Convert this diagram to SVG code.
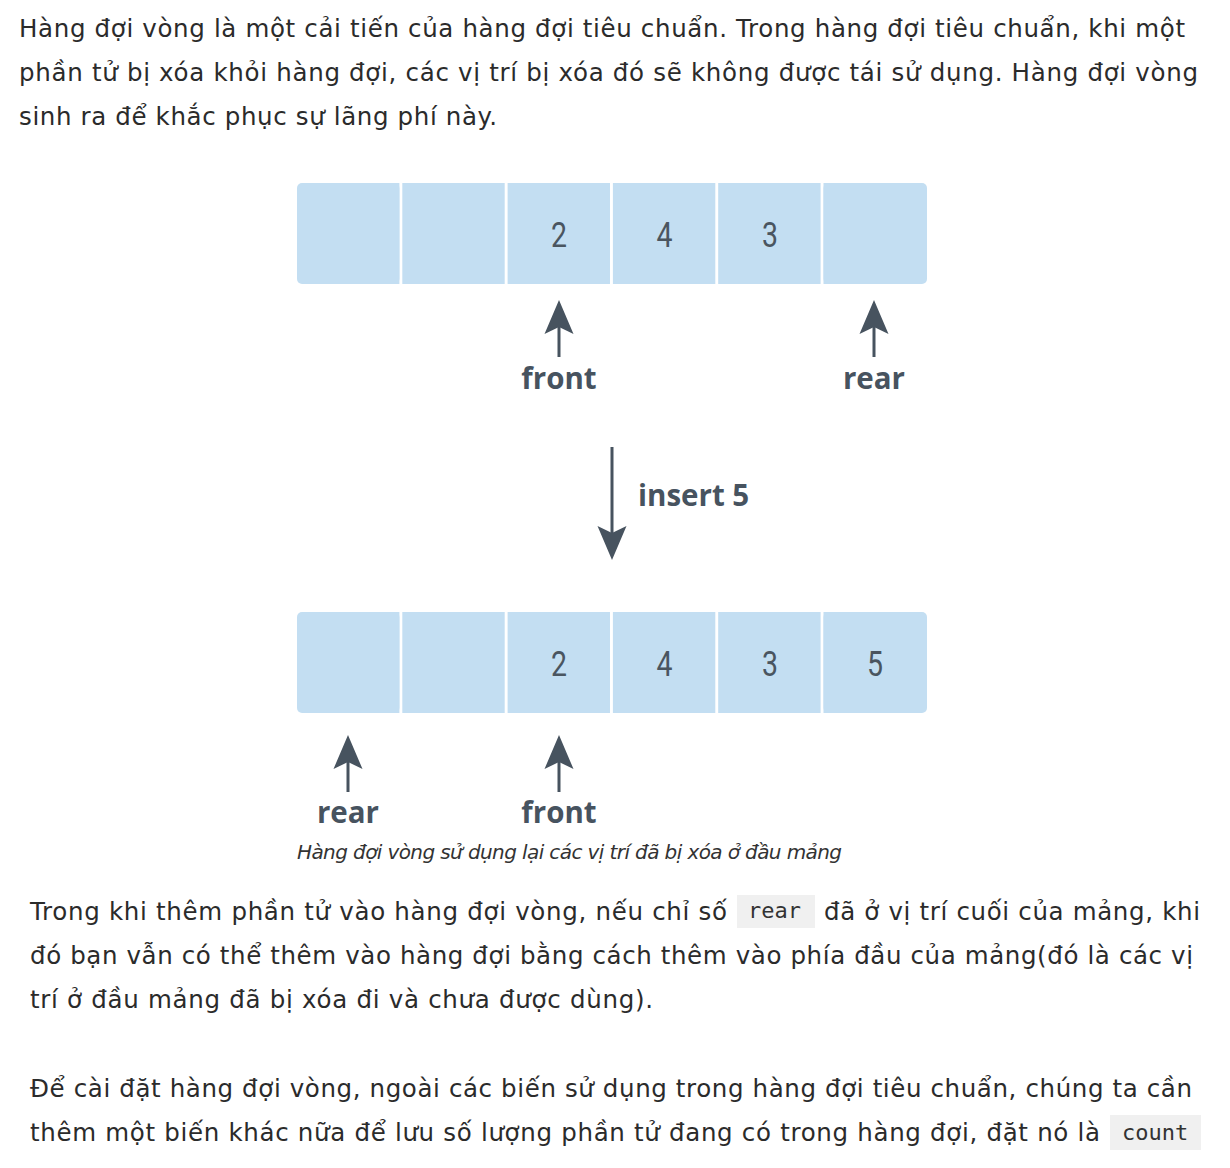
<svg xmlns="http://www.w3.org/2000/svg" width="1230" height="1168" viewBox="0 0 1230 1168">
<style>
.body{font-family:"DejaVu Sans","Noto Sans",sans-serif;font-size:24.5px;fill:#2b2b2b}
.cell{fill:#c3def2}
.digit{font-family:Roboto,"Open Sans",sans-serif;font-size:35px;fill:#4a5560;text-anchor:middle}
.lbl{font-family:"Open Sans","Noto Sans",sans-serif;font-weight:bold;font-size:29.5px;fill:#47535f;text-anchor:middle}
.shaft{stroke:#47535f;stroke-width:3;fill:none}
.cap{font-family:"DejaVu Sans","Noto Sans",sans-serif;font-style:italic;font-size:20px;fill:#333}
.code{font-family:"DejaVu Sans Mono","Liberation Mono",monospace;font-size:22px;fill:#333}
.chip{fill:#f0f0f0}
</style>
<defs>
<marker id="head" markerUnits="userSpaceOnUse" markerWidth="34" markerHeight="30" viewBox="0 -15 34 30" refX="7" refY="0" orient="auto">
<path d="M34,0 L0,-14.5 L7,0 L0,14.5 Z" fill="#47535f"/>
</marker>
</defs>
<rect width="1230" height="1168" fill="#fff"/>

<g id="intro">
<text class="body" x="19" y="37" textLength="1166">Hàng đợi vòng là một cải tiến của hàng đợi tiêu chuẩn. Trong hàng đợi tiêu chuẩn, khi một</text>
<text class="body" x="19" y="81" textLength="1179">phần tử bị xóa khỏi hàng đợi, các vị trí bị xóa đó sẽ không được tái sử dụng. Hàng đợi vòng</text>
<text class="body" x="19" y="125" textLength="478">sinh ra để khắc phục sự lãng phí này.</text>
</g>

<g id="top-array">
<g id="top-cell-0"><rect class="cell" x="297" y="183" width="102.4" height="101" rx="5"/><rect class="cell" x="390" y="183" width="9.4" height="101"/></g>
<g id="top-cell-1"><rect class="cell" x="402.3" y="183" width="102.4" height="101"/></g>
<g id="top-cell-2"><rect class="cell" x="507.6" y="183" width="102.4" height="101"/><text class="digit" x="559" y="247" textLength="16" lengthAdjust="spacingAndGlyphs">2</text></g>
<g id="top-cell-3"><rect class="cell" x="612.9" y="183" width="102.4" height="101"/><text class="digit" x="664.5" y="247" textLength="16" lengthAdjust="spacingAndGlyphs">4</text></g>
<g id="top-cell-4"><rect class="cell" x="718.2" y="183" width="102.4" height="101"/><text class="digit" x="770" y="247" textLength="16" lengthAdjust="spacingAndGlyphs">3</text></g>
<g id="top-cell-5"><rect class="cell" x="823.5" y="183" width="103.5" height="101" rx="5"/><rect class="cell" x="823.5" y="183" width="10" height="101"/></g>
</g>

<g id="top-front-label"><text class="lbl" x="559" y="389">front</text></g>
<g id="top-rear-label"><text class="lbl" x="874" y="389">rear</text></g>
<g id="insert-label"><text class="lbl" x="638" y="506" style="text-anchor:start" font-size="30.5">insert 5</text></g>

<g id="bottom-array">
<g id="bot-cell-0"><rect class="cell" x="297" y="612" width="102.4" height="101" rx="5"/><rect class="cell" x="390" y="612" width="9.4" height="101"/></g>
<g id="bot-cell-1"><rect class="cell" x="402.3" y="612" width="102.4" height="101"/></g>
<g id="bot-cell-2"><rect class="cell" x="507.6" y="612" width="102.4" height="101"/><text class="digit" x="559" y="676" textLength="16" lengthAdjust="spacingAndGlyphs">2</text></g>
<g id="bot-cell-3"><rect class="cell" x="612.9" y="612" width="102.4" height="101"/><text class="digit" x="664.5" y="676" textLength="16" lengthAdjust="spacingAndGlyphs">4</text></g>
<g id="bot-cell-4"><rect class="cell" x="718.2" y="612" width="102.4" height="101"/><text class="digit" x="770" y="676" textLength="16" lengthAdjust="spacingAndGlyphs">3</text></g>
<g id="bot-cell-5"><rect class="cell" x="823.5" y="612" width="103.5" height="101" rx="5"/><rect class="cell" x="823.5" y="612" width="10" height="101"/><text class="digit" x="875" y="676" textLength="16" lengthAdjust="spacingAndGlyphs">5</text></g>
</g>

<g id="bot-rear-label"><text class="lbl" x="348" y="823">rear</text></g>
<g id="bot-front-label"><text class="lbl" x="559" y="823">front</text></g>

<g id="connectors">
<line class="shaft" x1="559" y1="357" x2="559" y2="327" marker-end="url(#head)"/>
<line class="shaft" x1="874" y1="357" x2="874" y2="327" marker-end="url(#head)"/>
<line class="shaft" x1="612" y1="447" x2="612" y2="533" marker-end="url(#head)"/>
<line class="shaft" x1="348" y1="792" x2="348" y2="762" marker-end="url(#head)"/>
<line class="shaft" x1="559" y1="792" x2="559" y2="762" marker-end="url(#head)"/>
</g>

<g id="caption"><text class="cap" x="297" y="859" textLength="545">Hàng đợi vòng sử dụng lại các vị trí đã bị xóa ở đầu mảng</text></g>

<g id="para2">
<text class="body" x="30" y="920" textLength="697">Trong khi thêm phần tử vào hàng đợi vòng, nếu chỉ số</text>
<rect class="chip" x="737" y="895" width="78" height="33"/>
<text class="code" x="748" y="918">rear</text>
<text class="body" x="824" y="920" textLength="376">đã ở vị trí cuối của mảng, khi</text>
<text class="body" x="30" y="964" textLength="1163">đó bạn vẫn có thể thêm vào hàng đợi bằng cách thêm vào phía đầu của mảng(đó là các vị</text>
<text class="body" x="30" y="1008" textLength="623">trí ở đầu mảng đã bị xóa đi và chưa được dùng).</text>
</g>

<g id="para3">
<text class="body" x="30" y="1097" textLength="1162">Để cài đặt hàng đợi vòng, ngoài các biến sử dụng trong hàng đợi tiêu chuẩn, chúng ta cần</text>
<text class="body" x="30" y="1141" textLength="1070">thêm một biến khác nữa để lưu số lượng phần tử đang có trong hàng đợi, đặt nó là</text>
<rect class="chip" x="1110" y="1115" width="91" height="35"/>
<text class="code" x="1122" y="1140">count</text>
</g>
</svg>
